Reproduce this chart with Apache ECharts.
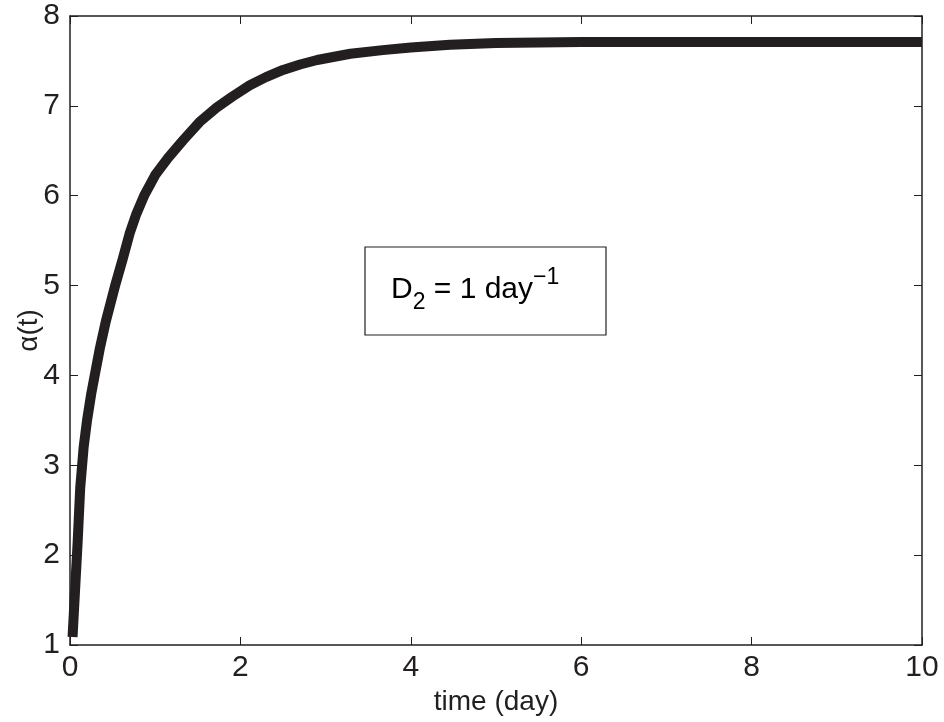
<!DOCTYPE html>
<html>
<head>
<meta charset="utf-8">
<script src="https://cdn.jsdelivr.net/npm/echarts@6/dist/echarts.min.js"></script>
<style>
  html, body { margin: 0; padding: 0; background: #fff; }
  #main { width: 944px; height: 722px; }
</style>
</head>
<body>
<div id="main"></div>
<script>
// values
var timeDays = [0.03, 0.06, 0.09, 0.12, 0.16, 0.20, 0.25, 0.29, 0.35, 0.42, 0.53, 0.62, 0.70, 0.78, 0.87, 1.00, 1.15, 1.33, 1.52, 1.72, 1.90, 2.11, 2.30, 2.50, 2.70, 2.90, 3.29, 3.67, 4.00, 4.46, 5.00, 6.00, 7.00, 8.00, 9.00, 10.00];
var alphaVals = [1.09, 1.62, 2.15, 2.75, 3.20, 3.50, 3.80, 4.00, 4.30, 4.60, 5.00, 5.30, 5.58, 5.80, 6.00, 6.23, 6.42, 6.62, 6.82, 6.98, 7.10, 7.23, 7.32, 7.40, 7.46, 7.51, 7.58, 7.62, 7.65, 7.68, 7.70, 7.71, 7.71, 7.71, 7.71, 7.71];
var xTicks = [0, 2, 4, 6, 8, 10];
var yTicks = [1, 2, 3, 4, 5, 6, 7, 8];

var ink = '#231f20';
var font = 'Liberation Sans';

var points = timeDays.map(function (t, i) { return [t, alphaVals[i]]; });

var myChart = echarts.init(document.getElementById('main'));

function xAx(pos, showLabel) {
    return {
        type: 'value', position: pos,
        min: xTicks[0], max: xTicks[xTicks.length - 1], interval: 2,
        axisLine: { show: true, onZero: false, lineStyle: { color: ink, width: 1.5 } },
        axisTick: { show: true, inside: true, length: 8, lineStyle: { color: ink, width: 1 } },
        axisLabel: { show: showLabel, color: ink, fontFamily: font, fontSize: 30, margin: 8 },
        splitLine: { show: false }
    };
}
function yAx(pos, showLabel) {
    return {
        type: 'value', position: pos,
        min: yTicks[0], max: yTicks[yTicks.length - 1], interval: 1,
        axisLine: { show: true, onZero: false, lineStyle: { color: ink, width: 1.5 } },
        axisTick: { show: true, inside: true, length: 8, lineStyle: { color: ink, width: 1 } },
        axisLabel: { show: showLabel, color: ink, fontFamily: font, fontSize: 30, margin: 10 },
        splitLine: { show: false }
    };
}

var xMain = xAx('bottom', true);
xMain.name = 'time (day)';
xMain.nameLocation = 'middle';
xMain.nameGap = 40;
xMain.nameTextStyle = { color: ink, fontFamily: font, fontSize: 28 };

var yMain = yAx('left', true);
yMain.name = 'α(t)';
yMain.nameLocation = 'middle';
yMain.nameGap = 27;
yMain.nameMoveOverlap = false;
yMain.nameTextStyle = { color: ink, fontFamily: font, fontSize: 28 };

myChart.setOption({
    animation: false,
    backgroundColor: '#fff',
    grid: { left: 70, right: 22, top: 16, bottom: 77, outerBoundsMode: 'none' },
    xAxis: [xMain, xAx('top', false)],
    yAxis: [yMain, yAx('right', false)],
    series: [
        {
            type: 'line',
            data: points,
            smooth: false,
            showSymbol: false,
            lineStyle: { color: ink, width: 10, join: 'round', cap: 'butt' }
        }
    ],
    graphic: [
        {
            type: 'rect',
            shape: { x: 365, y: 247, width: 241, height: 88 },
            style: { fill: '#fff', stroke: ink, lineWidth: 1.2 }
        },
        {
            type: 'text',
            x: 391, y: 266,
            style: {
                text: '{a|D}{s|2}{a| = 1 day}{p|−1}',
                rich: {
                    a: { fontFamily: font, fontSize: 30, color: ink, lineHeight: 48, verticalAlign: 'middle' },
                    s: { fontFamily: font, fontSize: 23, color: ink, lineHeight: 48, verticalAlign: 'bottom', padding: [16, 0, 0, 0] },
                    p: { fontFamily: font, fontSize: 23, color: ink, lineHeight: 48, verticalAlign: 'top' }
                }
            }
        }
    ]
});
</script>
</body>
</html>
